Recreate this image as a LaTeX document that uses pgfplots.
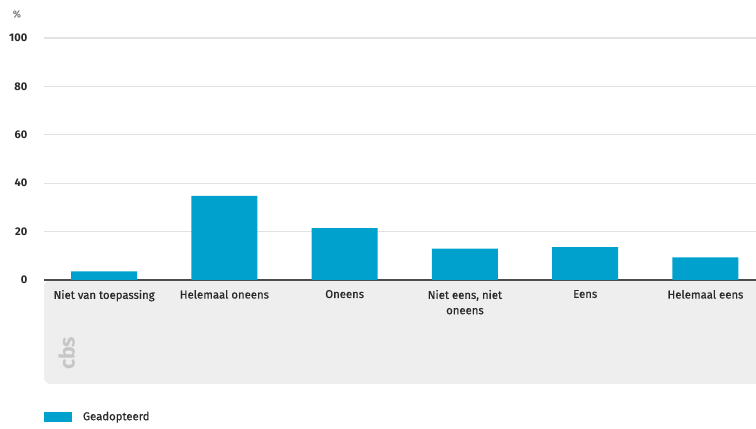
\documentclass[border=0pt]{standalone}
\usepackage{pgfplots}
\pgfplotsset{compat=1.18}
\usepackage{fontspec}
\setmainfont{Fira Sans}
\newfontfamily\semib{Fira Sans}[FakeBold=0.6]
\definecolor{cbsblue}{RGB}{0,161,205}
\definecolor{panel}{RGB}{238,238,238}
\definecolor{gridc}{RGB}{226,226,226}
\definecolor{txt}{RGB}{40,40,40}
\begin{document}
\begin{tikzpicture}
\useasboundingbox (0,0) rectangle (567pt,321pt);
\begin{scope}
\clip (0,0) rectangle (567pt,321pt);
\fill[panel, rounded corners=5pt] (33pt,33pt) rectangle (590pt,111pt);
\end{scope}
\node[text=gray!45, rotate=90, font=\fontsize{16}{16}\selectfont\bfseries] at (50pt,56pt) {cbs};
\node[anchor=west, text=gray, font=\fontsize{7.5}{9}\selectfont\semib] at (6pt,310.5pt) {\%};
\begin{axis}[
  at={(33pt,111pt)}, anchor=south west,
  scale only axis, width=534pt, height=181.5pt,
  xmin=-0.5, xmax=5.42, ymin=0, ymax=100,
  ybar, bar width=49.5pt,
  axis line style={draw=none},
  major tick length=0pt,
  ytick={20,40,60,80,100},
  extra y ticks={0},
  extra y tick style={grid style={draw=black!70, line width=1.1pt}},
  ymajorgrids, grid style={draw=gridc, line width=0.8pt},
  xtick=data,
  xticklabels={Niet van toepassing, Helemaal oneens, Oneens, {Niet eens, niet\\oneens}, Eens, Helemaal eens},
  xticklabel style={align=center, font=\fontsize{8.5}{11.5}\selectfont\semib, text=txt, anchor=north, yshift=-4pt},
  yticklabel style={font=\fontsize{8.3}{10}\selectfont\bfseries, text=txt, xshift=-9pt},
  /pgf/number format/assume math mode=true,
  legend style={at={(axis description cs:0,-0.566)}, anchor=west, draw=none, fill=none, inner sep=0pt, font=\fontsize{8.5}{10}\selectfont\semib, text=txt},
  legend image code/.code={\fill[#1] (0pt,-3.5pt) rectangle (21pt,3.5pt);},
  legend cell align=left,
]
\addplot[fill=cbsblue, draw=none] coordinates {(0,3.6) (1,34.8) (2,21.4) (3,13.0) (4,13.6) (5,9.4)};
\addlegendentry{\hspace{6pt}Geadopteerd}
\end{axis}
\end{tikzpicture}
\end{document}
